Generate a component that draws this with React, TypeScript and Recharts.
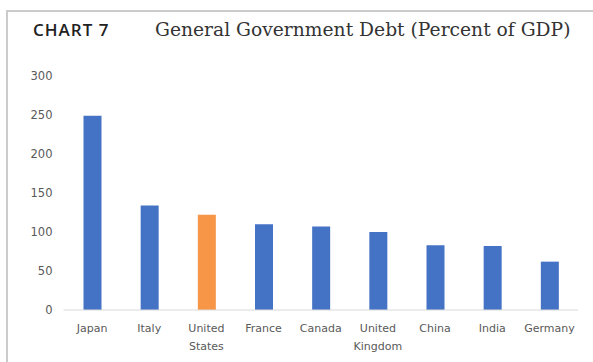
import { BarChart, Bar, XAxis, YAxis, Cell } from 'recharts';

const countries = ['Japan', 'Italy', 'United States', 'France', 'Canada', 'United Kingdom', 'China', 'India', 'Germany'];
const debt = [249, 134, 122, 110, 107, 100, 83, 82, 62];
const yTicks = [0, 50, 100, 150, 200, 250, 300];
const highlight = 'United States';

const data = countries.map((name, i) => ({ name, debt: debt[i] }));

const BLUE = '#4472C4';
const ORANGE = '#F79646';
const LABEL = '#595959';

const CountryTick = (props: any) => {
  const { x, y, payload } = props;
  const words = String(payload.value).split(' ');
  return (
    <text x={x} y={y} textAnchor="middle" fill={LABEL} fontSize={11} fontFamily="DejaVu Sans">
      {words.map((w: string, i: number) => (
        <tspan key={i} x={x} dy={i === 0 ? 14 : 18}>{w}</tspan>
      ))}
    </text>
  );
};

export default function App() {
  return (
    <div style={{ position: 'absolute', left: 0, top: 0, width: 593, height: 362, background: '#fff' }}>
      <div style={{ position: 'absolute', left: 6, top: 10, width: 587, height: 352, borderTop: '2px solid #cbcbcb', borderLeft: '2px solid #cbcbcb' }} />
      <div style={{ position: 'absolute', left: 33, top: 19, fontFamily: 'Open Sans', fontWeight: 600, fontSize: 17, letterSpacing: 1, color: '#222', lineHeight: '22px' }}>
        CHART 7
      </div>
      <div style={{ position: 'absolute', left: 155, top: 18, fontFamily: 'DejaVu Serif', fontSize: 18.7, color: '#333', lineHeight: '24px', whiteSpace: 'nowrap' }}>
        General Government Debt (Percent of GDP)
      </div>
      <div style={{ position: 'absolute', left: 0, top: 0 }}>
        <BarChart width={593} height={362} data={data} margin={{ top: 76, right: 15, bottom: 0, left: 0 }}>
          <XAxis
            dataKey="name"
            interval={0}
            tickLine={false}
            axisLine={{ stroke: '#d9d9d9', strokeWidth: 1 }}
            tick={<CountryTick />}
            height={52}
          />
          <YAxis
            width={63.5}
            domain={[0, 300]}
            ticks={yTicks}
            tickLine={false}
            axisLine={false}
            tickMargin={5}
            tick={{ fill: LABEL, fontSize: 11.5, fontFamily: 'DejaVu Sans' }}
          />
          <Bar dataKey="debt" barSize={18} isAnimationActive={false}>
            {data.map((d) => (
              <Cell key={d.name} fill={d.name === highlight ? ORANGE : BLUE} />
            ))}
          </Bar>
        </BarChart>
      </div>
    </div>
  );
}
